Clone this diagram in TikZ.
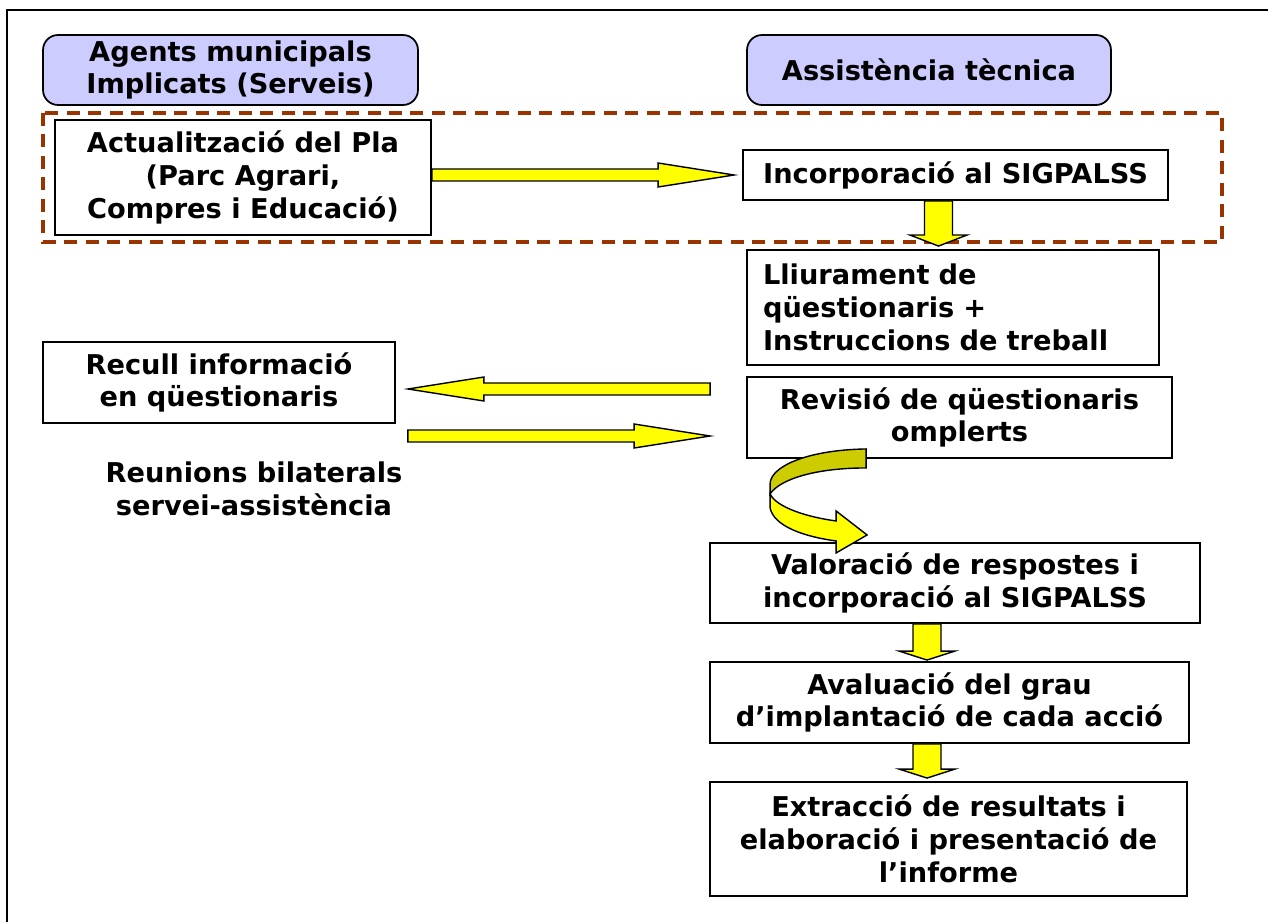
\documentclass[tikz,border=0pt]{standalone}
\usepackage{fontspec}
\setmainfont{DejaVu Sans}
\usepackage{tikz}
\usetikzlibrary{calc,positioning}

\definecolor{lavanda}{HTML}{CCCCFF}
\definecolor{groc}{HTML}{FFFF00}
\definecolor{oliva}{HTML}{CCCC00}
\definecolor{marro}{HTML}{993300}

% block arrow: tail, tip, half shaft, half head, head length
\newcommand{\blockarrow}[5]{%
  \path ($(#2)!#5!(#1)$) coordinate (ba);
  \draw[yarrow] ($(#1)!#3!90:(#2)$) -- ($(ba)!#3!90:(#2)$) -- ($(ba)!#4!90:(#2)$) -- (#2)
    -- ($(ba)!#4!-90:(#2)$) -- ($(ba)!#3!-90:(#2)$) -- ($(#1)!#3!-90:(#2)$) -- cycle;
}

\begin{document}
\begin{tikzpicture}[x=0.02cm,y=-0.02cm,
  txt/.style={font=\bfseries\fontsize{15.5}{18.7}\selectfont, align=center},
  box/.style={txt, draw, line width=1.1pt, fill=white, inner sep=0pt},
  head/.style={txt, draw, line width=1pt, fill=lavanda, rounded corners=0.3cm, inner sep=0pt},
  yarrow/.style={draw, line width=0.8pt, fill=groc, line join=miter}]

\useasboundingbox (0,0) rectangle (1268,922);
\draw[line width=1.4pt] (7,922) -- (7,10) -- (1268,10);

% headers
\node[head, minimum width=7.5cm, minimum height=1.4cm] (agents) at (230.5,70) {Agents municipals\\Implicats (Serveis)};
\node[head, minimum width=7.28cm, minimum height=1.4cm] (assist) at (929,70) {Assistència tècnica};

% update group
\draw[marro, line width=2.3pt, dash pattern=on 0.26cm off 0.17cm] (43,113) rectangle (1222,242);
\node[box, minimum width=7.52cm, minimum height=2.3cm] (act) at (243,177.5) {Actualització del Pla\\(Parc Agrari,\\Compres i Educació)};
\node[box, minimum width=8.5cm, minimum height=1cm] (inc) at (955.5,175) {Incorporació al SIGPALSS};

% right column
\node[box, minimum width=8.24cm, minimum height=2.3cm, text width=7.6cm, align=left, inner xsep=0.32cm] (lliur) at (953,307.5) {Lliurament de\\qüestionaris +\\Instruccions de treball};
\node[box, minimum width=8.5cm, minimum height=1.62cm] (revis) at (959.5,417.5) {Revisió de qüestionaris\\omplerts};
\node[box, minimum width=9.8cm, minimum height=1.6cm] (valor) at (955,583) {Valoració de respostes i\\incorporació al SIGPALSS};
\node[box, minimum width=9.58cm, minimum height=1.62cm] (aval) at (949.5,702.5) {Avaluació del grau\\d’implantació de cada acció};
\node[box, minimum width=9.54cm, minimum height=2.28cm] (extr) at (948.5,839) {Extracció de resultats i\\elaboració i presentació de\\l’informe};

% left column
\node[box, minimum width=7.04cm, minimum height=1.62cm] (recull) at (219,382.5) {Recull informació\\en qüestionaris};
\node[txt] (reunio) at (254,489) {Reunions bilaterals\\servei-assistència};

% arrows
\coordinate (a1) at (act.east |- inc.west);
\coordinate (a1e) at ($(inc.west)+(-8,0)$);
\blockarrow{a1}{a1e}{0.12cm}{0.24cm}{1.52cm}

\coordinate (d1) at ($(inc.south)+(-17,0)$);
\coordinate (d1e) at ($(d1 |- lliur.north)+(0,-3)$);
\blockarrow{d1}{d1e}{0.28cm}{0.57cm}{0.22cm}

\coordinate (l1) at ($(revis.west)+(-36,-28.5)$);
\coordinate (l1e) at ($(l1 -| recull.east)+(12,0)$);
\blockarrow{l1}{l1e}{0.12cm}{0.24cm}{1.52cm}

\coordinate (r1) at ($(recull.east)+(12,53.5)$);
\coordinate (r1e) at ($(revis.west)+(-36,18.5)$);
\blockarrow{r1}{r1e}{0.12cm}{0.24cm}{1.52cm}

\coordinate (d2) at ($(valor.south)+(-28,0)$);
\coordinate (d2e) at ($(d2 |- aval.north)+(0,-1)$);
\blockarrow{d2}{d2e}{0.28cm}{0.56cm}{0.18cm}

\coordinate (d3) at ($(aval.south)+(-22.5,0)$);
\coordinate (d3e) at ($(d3 |- extr.north)+(0,-3)$);
\blockarrow{d3}{d3e}{0.28cm}{0.56cm}{0.18cm}

% curved arrow
\begin{scope}[shift={(revis.south west)}]
\draw[line width=0.8pt, fill=oliva] (120,-10) .. controls (60,-9) and (24,8) .. (24,25) -- (24,35)
  .. controls (34,20) and (70,9) .. (120,9) -- cycle;
\draw[yarrow] (24,35) -- (24,49) .. controls (28,68) and (60,78) .. (90,82) -- (90,94) -- (121,76)
  -- (90,52) -- (90,62) .. controls (60,58) and (30,48) .. (24,35) -- cycle;
\end{scope}

\end{tikzpicture}
\end{document}
